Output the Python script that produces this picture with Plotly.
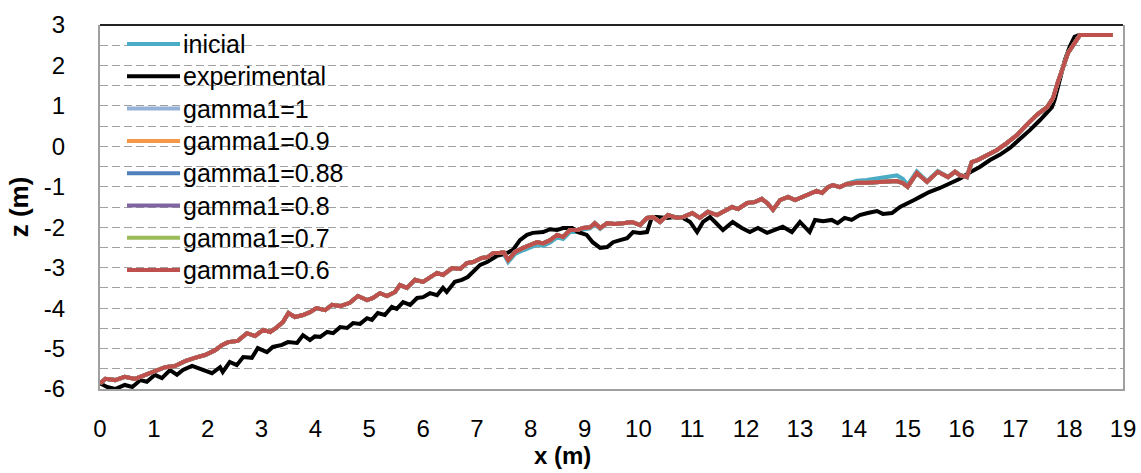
import plotly.graph_objects as go

# Cross-shore profile: distance x (m) and bed elevation z (m)
x_model = [0.0, 0.1, 0.28, 0.46, 0.65, 0.84, 1.02, 1.21, 1.39, 1.58, 1.76, 1.95, 2.14, 2.27, 2.38, 2.56,
           2.73, 2.88, 3.03, 3.16, 3.29, 3.4, 3.5, 3.62, 3.77, 3.9, 4.02, 4.18, 4.31, 4.46, 4.64, 4.79,
           4.96, 5.07, 5.2, 5.33, 5.48, 5.57, 5.7, 5.85, 6.0, 6.13, 6.26, 6.37, 6.54, 6.69, 6.81, 6.93,
           7.09, 7.2, 7.3, 7.43, 7.5, 7.58, 7.71, 7.86, 7.99, 8.12, 8.23, 8.36, 8.49, 8.6, 8.73, 8.86,
           8.97, 9.1, 9.19, 9.29, 9.42, 9.56, 9.71, 9.88, 10.03, 10.16, 10.27, 10.4, 10.55, 10.72, 10.83,
           11.0, 11.14, 11.29, 11.46, 11.57, 11.74, 11.85, 12.02, 12.16, 12.29, 12.39, 12.5, 12.63, 12.78,
           12.91, 13.05, 13.18, 13.31, 13.41, 13.52, 13.61, 13.74, 13.87, 14.06, 14.24, 14.43, 14.61,
           14.8, 14.91, 15.0, 15.17, 15.36, 15.56, 15.75, 15.88, 15.97, 16.1, 16.19, 16.3, 16.47, 16.66,
           16.84, 17.03, 17.21, 17.4, 17.59, 17.7, 17.79, 17.88, 17.98, 18.1, 18.2, 18.81]

# Computed profile (all gamma1 runs overlap almost exactly)
z_model = [-5.86, -5.75, -5.78, -5.70, -5.75, -5.65, -5.56, -5.46, -5.43, -5.31, -5.23, -5.16, -5.04,
           -4.91, -4.84, -4.81, -4.62, -4.69, -4.54, -4.59, -4.47, -4.34, -4.12, -4.22, -4.17, -4.10,
           -4.00, -4.05, -3.92, -3.95, -3.87, -3.70, -3.80, -3.75, -3.63, -3.70, -3.60, -3.43, -3.50,
           -3.30, -3.35, -3.23, -3.13, -3.18, -3.01, -3.03, -2.89, -2.86, -2.76, -2.74, -2.64, -2.63,
           -2.62, -2.81, -2.61, -2.51, -2.44, -2.37, -2.40, -2.32, -2.19, -2.24, -2.07, -2.07, -2.02,
           -2.00, -1.90, -2.02, -1.90, -1.92, -1.90, -1.87, -1.95, -1.77, -1.75, -1.87, -1.70, -1.77,
           -1.75, -1.65, -1.77, -1.62, -1.70, -1.62, -1.50, -1.55, -1.40, -1.38, -1.30, -1.40, -1.57,
           -1.33, -1.25, -1.33, -1.25, -1.20, -1.10, -1.15, -1.01, -0.96, -1.01, -0.93, -0.90, -0.90,
           -0.88, -0.88, -0.86, -0.91, -1.00, -0.66, -0.88, -0.63, -0.76, -0.63, -0.71, -0.76, -0.39,
           -0.34, -0.21, -0.09, 0.08, 0.28, 0.53, 0.78, 0.97, 1.19, 1.59, 1.96, 2.31, 2.55, 2.75, 2.75]

# Initial profile
z_inicial = [-5.86, -5.75, -5.78, -5.70, -5.75, -5.65, -5.56, -5.46, -5.43, -5.31, -5.23, -5.16, -5.04,
             -4.91, -4.84, -4.81, -4.62, -4.69, -4.54, -4.59, -4.47, -4.34, -4.12, -4.22, -4.17, -4.10,
             -4.00, -4.05, -3.92, -3.95, -3.87, -3.70, -3.80, -3.75, -3.63, -3.70, -3.60, -3.43, -3.50,
             -3.30, -3.35, -3.23, -3.13, -3.18, -3.01, -3.03, -2.89, -2.86, -2.76, -2.74, -2.68, -2.68,
             -2.67, -2.86, -2.66, -2.57, -2.50, -2.43, -2.46, -2.38, -2.25, -2.29, -2.12, -2.12, -2.06,
             -2.03, -1.93, -2.04, -1.90, -1.92, -1.90, -1.87, -1.95, -1.77, -1.75, -1.87, -1.70, -1.77,
             -1.75, -1.65, -1.77, -1.62, -1.70, -1.62, -1.50, -1.55, -1.40, -1.38, -1.30, -1.40, -1.57,
             -1.33, -1.25, -1.33, -1.25, -1.20, -1.10, -1.15, -1.01, -0.96, -1.01, -0.92, -0.85, -0.83,
             -0.80, -0.76, -0.72, -0.80, -0.95, -0.62, -0.86, -0.61, -0.75, -0.62, -0.70, -0.76, -0.39,
             -0.34, -0.21, -0.09, 0.08, 0.28, 0.53, 0.78, 0.97, 1.19, 1.59, 1.96, 2.31, 2.55, 2.75, 2.75]

# Measured profile
x_exp = [0.0, 0.13, 0.28, 0.46, 0.6, 0.75, 0.87, 1.02, 1.15, 1.3, 1.43, 1.54, 1.71, 1.82, 1.95, 2.08,
         2.23, 2.28, 2.41, 2.54, 2.66, 2.82, 2.93, 3.1, 3.21, 3.38, 3.49, 3.66, 3.77, 3.9, 3.99, 4.09,
         4.22, 4.33, 4.46, 4.59, 4.7, 4.83, 4.96, 5.05, 5.16, 5.29, 5.42, 5.51, 5.63, 5.76, 5.89, 6.0,
         6.13, 6.26, 6.37, 6.44, 6.59, 6.72, 6.83, 6.96, 7.06, 7.19, 7.37, 7.56, 7.67, 7.8, 7.93, 8.04,
         8.23, 8.36, 8.49, 8.6, 8.77, 8.88, 9.04, 9.15, 9.29, 9.42, 9.53, 9.66, 9.79, 9.9, 10.03, 10.16,
         10.25, 10.34, 10.53, 10.68, 10.83, 10.96, 11.09, 11.2, 11.33, 11.46, 11.57, 11.75, 11.92, 12.07,
         12.22, 12.39, 12.53, 12.68, 12.85, 13.0, 13.18, 13.28, 13.43, 13.59, 13.7, 13.83, 13.96, 14.11,
         14.26, 14.43, 14.54, 14.71, 14.86, 15.0, 15.13, 15.23, 15.4, 15.6, 15.78, 15.97, 16.16, 16.34,
         16.53, 16.71, 16.9, 17.08, 17.27, 17.46, 17.68, 17.73, 17.83, 17.92, 18.01, 18.1, 18.2]
z_exp = [-5.86, -5.95, -6.00, -5.90, -5.95, -5.78, -5.82, -5.65, -5.73, -5.53, -5.65, -5.53, -5.43,
         -5.48, -5.53, -5.61, -5.46, -5.58, -5.33, -5.41, -5.21, -5.23, -4.99, -5.09, -4.96, -4.91,
         -4.84, -4.86, -4.67, -4.79, -4.70, -4.71, -4.59, -4.62, -4.47, -4.49, -4.37, -4.39, -4.25,
         -4.29, -4.12, -4.17, -3.97, -4.02, -3.85, -3.92, -3.75, -3.73, -3.63, -3.68, -3.50, -3.60,
         -3.35, -3.30, -3.23, -3.06, -2.93, -2.86, -2.71, -2.64, -2.56, -2.32, -2.19, -2.14, -2.12,
         -2.05, -2.07, -2.02, -2.02, -2.12, -2.19, -2.37, -2.51, -2.49, -2.37, -2.32, -2.27, -2.12,
         -2.14, -2.12, -1.75, -1.75, -1.77, -1.75, -1.77, -1.87, -2.12, -1.87, -1.75, -1.92, -2.07,
         -1.87, -2.02, -2.12, -2.02, -2.14, -2.07, -1.99, -2.12, -1.87, -2.12, -1.82, -1.85, -1.82,
         -1.90, -1.77, -1.82, -1.70, -1.65, -1.60, -1.67, -1.65, -1.50, -1.42, -1.32, -1.25, -1.13,
         -1.03, -0.93, -0.80, -0.64, -0.51, -0.34, -0.21, -0.04, 0.16, 0.40, 0.65, 0.97, 1.15, 1.64,
         2.13, 2.46, 2.71, 2.76]

gamma_labels = ["gamma1=1", "gamma1=0.9", "gamma1=0.88", "gamma1=0.8", "gamma1=0.7", "gamma1=0.6"]
gamma_colors = ["#95B3D7", "#F79646", "#4F81BD", "#8064A2", "#9BBB59", "#C0504D"]

x_ticks = list(range(0, 20))
z_ticks = list(range(-6, 4))

FONT = "Liberation Sans, Arial, sans-serif"
LW = 4

series = [("inicial", x_model, z_inicial, "#4BACC6"),
          ("experimental", x_exp, z_exp, "#000000")]
series += [(lab, x_model, z_model, col) for lab, col in zip(gamma_labels, gamma_colors)]

fig = go.Figure()
for name, xs, zs, col in series:
    fig.add_trace(go.Scatter(x=xs, y=zs, mode="lines", name=name,
                             line=dict(color=col, width=LW), showlegend=False))

# Plot-area geometry in pixels, used to place the legend block and x title
W, H = 1141, 473
ML, MR, MT, MB = 100, 18, 25, 84
pw, ph = W - ML - MR, H - MT - MB

def px_x(p):
    return (p - ML) / pw

def px_y(p):
    return 1 - (p - MT) / ph

# Legend drawn inside the plot area, top-left
row0, row_gap = 44, 32.3
for i, (name, _, _, col) in enumerate(series):
    yy = px_y(row0 + i * row_gap)
    fig.add_shape(type="line", xref="paper", yref="paper",
                  x0=px_x(127), x1=px_x(180), y0=yy, y1=yy,
                  line=dict(color=col, width=LW))
    fig.add_annotation(xref="paper", yref="paper", x=px_x(181), y=yy,
                       text=name, showarrow=False, xanchor="left", yanchor="middle",
                       font=dict(family=FONT, size=25, color="#000000"))

# x-axis title placed below the tick labels
fig.add_annotation(xref="paper", yref="paper", x=px_x(562), y=px_y(455),
                   text="x (m)", showarrow=False, xanchor="center", yanchor="middle",
                   font=dict(family=FONT, size=24, weight="bold", color="#000000"))

# Dark top border of the plot area
fig.add_shape(type="line", xref="paper", yref="paper", x0=0, x1=1, y0=1, y1=1,
              line=dict(color="#222222", width=2))

fig.update_layout(
    width=W, height=H,
    margin=dict(l=ML, r=MR, t=MT, b=MB),
    paper_bgcolor="white", plot_bgcolor="white",
    font=dict(family=FONT, size=24, color="#000000"),
    showlegend=False,
)
fig.update_xaxes(
    range=[0, 19], tickmode="array", tickvals=x_ticks, ticktext=[str(v) for v in x_ticks],
    showgrid=False, zeroline=False, showline=True, linecolor="#A0A0A0", linewidth=2,
    ticks="", ticklabelstandoff=17, automargin=False,
    tickfont=dict(family=FONT, size=24),
)
fig.update_yaxes(
    range=[-6, 3], tickmode="array", tickvals=z_ticks, ticktext=[str(v) for v in z_ticks],
    showgrid=True, gridcolor="#A0A0A0", gridwidth=1, griddash="8px,4px",
    minor=dict(dtick=0.5, showgrid=True, gridcolor="#A0A0A0", gridwidth=1, griddash="8px,4px"),
    zeroline=False, showline=True, mirror=True, linecolor="#A0A0A0", linewidth=2,
    ticks="", ticklabelstandoff=28, automargin=False,
    tickfont=dict(family=FONT, size=24),
    title=dict(text="z (m)", standoff=8, font=dict(family=FONT, size=26, weight="bold")),
)

fig.write_html("out.html")
